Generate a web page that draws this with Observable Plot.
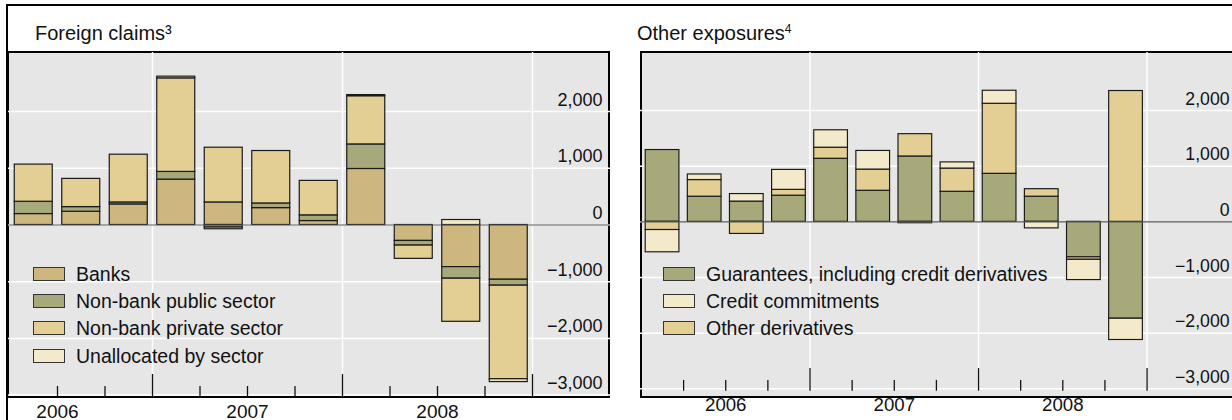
<!DOCTYPE html>
<html><head><meta charset="utf-8">
<script src="https://cdn.jsdelivr.net/npm/d3@7"></script>
<script src="https://cdn.jsdelivr.net/npm/@observablehq/plot@0.6"></script>
<style>
html,body{margin:0;padding:0;background:#fff;}
body{width:1232px;height:420px;overflow:hidden;position:relative;font-family:"Liberation Sans",Arial,sans-serif;color:#111;}
.line{position:absolute;background:#000;}
.frame{position:absolute;box-sizing:border-box;border:2px solid #000;background:#e6e6e6;}
.title{position:absolute;font-size:20px;line-height:20px;white-space:nowrap;}
.title sup{font-size:12px;vertical-align:top;position:relative;top:-4px;}
.leg{position:absolute;font-size:19.5px;line-height:20px;white-space:nowrap;display:flex;align-items:center;}
.sw{width:32px;height:14px;border:1.5px solid #333;margin-right:11px;box-sizing:border-box;flex:none;}
.plot{position:absolute;}
</style></head><body>
<script>
// ---- data ----
const claimQuarters = ["2006 Q2","2006 Q3","2006 Q4","2007 Q1","2007 Q2","2007 Q3","2007 Q4","2008 Q1","2008 Q2","2008 Q3","2008 Q4"];
const claimSeries = ["Banks","Non-bank public sector","Non-bank private sector","Unallocated by sector"];
const banks          = [193, 234, 363, 801, 398, 298,  70, 988, -281, -743, -965];
const nonBankPublic  = [217,  82,  35, 135, -45,  82, 100, 433,  -82, -204, -105];
const nonBankPrivate = [655, 497, 842,1650, 965, 925, 608, 850, -234, -760,-1650];
const unallocated    = [  0,   0,   0,  30, -30,   0,   0,  20,    0,   88,  -50];

const exposureQuarters = ["2006 Q1","2006 Q2","2006 Q3","2006 Q4","2007 Q1","2007 Q2","2007 Q3","2007 Q4","2008 Q1","2008 Q2","2008 Q3","2008 Q4"];
const exposureSeries = ["Guarantees, including credit derivatives","Other derivatives","Credit commitments"];
const exposureLegendOrder = ["Guarantees, including credit derivatives","Credit commitments","Other derivatives"];
const guarantees        = [1290, 452, 364, 470, 1133, 558, 1174, 540,  863, 452, -637, -1740];
const otherDerivatives  = [-147, 299,-217, 105,  199, 381,  401, 417, 1258, 135,  -45,  2350];
const creditCommitments = [-400, 100, 135, 358,  313, 335,  -25, 111,  234,-117, -364,  -382];

const yTicks = [-3000, -2000, -1000, 0, 1000, 2000];
const yearLabels = ["2006", "2007", "2008"];

const colors = {
  "Banks": "#cdb77e",
  "Non-bank public sector": "#a8a97b",
  "Non-bank private sector": "#e3cf93",
  "Unallocated by sector": "#f3eacb",
  "Guarantees, including credit derivatives": "#a8a97b",
  "Other derivatives": "#e3cf93",
  "Credit commitments": "#f3eacb"
};

// ---- helpers ----
const toNum = q => { const [y, qq] = q.split(" Q"); return +y + (+qq - 1) / 4; };
const fmt = d3.format(",");

function addDiv(cls, style, html) {
  const d = document.createElement("div");
  d.className = cls;
  Object.assign(d.style, style);
  if (html != null) d.innerHTML = html;
  document.body.appendChild(d);
  return d;
}

function panel({left, quarters, names, values, marginLeft, marginRight, labelGap, title, titleLeft, legendLeft, legendNames}) {
  const W = 603, H = 368, MB = 23, innerH = H - MB;
  addDiv("frame", {left: left + "px", top: "51px", width: W + "px", height: (innerH + 2) + "px"});
  const rows = [];
  quarters.forEach((q, i) => names.forEach((n, j) => rows.push({t: toNum(q), series: n, value: values[j][i]})));
  const t0 = toNum(quarters[0]), t1 = toNum(quarters[quarters.length - 1]) + 0.25;
  const bounds = quarters.slice(1).map(toNum).concat([t1]);
  const major = bounds.filter(Number.isInteger);
  const minor = bounds.filter(b => !Number.isInteger(b));
  const step = (W - marginLeft - marginRight) / quarters.length;
  const inset = step * 0.1;
  const svg = Plot.plot({
    width: W, height: H, marginTop: 0, marginBottom: MB, marginLeft, marginRight,
    x: {domain: [t0, t1], axis: null},
    y: {domain: [-3042, 3042], axis: null},
    color: {domain: names, range: names.map(n => colors[n])},
    style: {background: "transparent", fontFamily: "'Liberation Sans', Arial, sans-serif", overflow: "visible"},
    marks: [
      Plot.ruleY(yTicks, {y: d => d, stroke: "#fff", strokeWidth: 1.5, insetLeft: -marginLeft, insetRight: -marginRight}),
      Plot.ruleX(major, {x: d => d, stroke: "#fff", strokeWidth: 1.5}),
      Plot.rectY(rows, {x1: "t", x2: d => d.t + 0.25, y: "value", fill: "series", stroke: "#1a1a1a", strokeWidth: 1.2, insetLeft: inset, insetRight: inset}),
      Plot.ruleY([0], {stroke: "#555", strokeWidth: 1.2, insetLeft: -marginLeft, insetRight: -marginRight}),
      Plot.ruleX(minor, {x: d => d, stroke: "#111", strokeWidth: 1.3, insetTop: innerH - 11}),
      Plot.ruleX(major, {x: d => d, stroke: "#111", strokeWidth: 1.3, insetTop: innerH - 23}),
      Plot.text(yTicks, {y: d => d, text: d => fmt(d), frameAnchor: "right", dx: marginRight - labelGap, textAnchor: "end", lineAnchor: "bottom", dy: -6, fontSize: 18, fill: "#111"}),
      Plot.text(yearLabels, {x: d => +d + 0.5, text: d => d, frameAnchor: "bottom", lineAnchor: "top", dy: 7, fontSize: 19, fill: "#111"})
    ]
  });
  const wrap = addDiv("plot", {left: left + "px", top: "52px"});
  wrap.appendChild(svg);
  addDiv("title", {left: titleLeft + "px", top: "23px"}, title);
  legendNames.forEach((n, i) => {
    const row = addDiv("leg", {left: legendLeft + "px", top: (264 + i * 27.2) + "px"});
    row.innerHTML = `<div class="sw" style="background:${colors[n]}"></div><span>${n}</span>`;
  });
}

// outer borders
addDiv("line", {left: "6px", top: "4px", width: "1226px", height: "2px"});

panel({
  left: 7, quarters: claimQuarters, names: claimSeries,
  values: [banks, nonBankPublic, nonBankPrivate, unallocated],
  marginLeft: 2.5, marginRight: 78, labelGap: 8,
  title: "Foreign claims³", titleLeft: 35, legendLeft: 33, legendNames: claimSeries
});
panel({
  left: 640, quarters: exposureQuarters, names: exposureSeries,
  values: [guarantees, otherDerivatives, creditCommitments],
  marginLeft: 1, marginRight: 87, labelGap: 3,
  title: "Other exposures<sup>4</sup>", titleLeft: 637, legendLeft: 663, legendNames: exposureLegendOrder
});
addDiv("line", {left: "6px", top: "4px", width: "2px", height: "416px"});
</script>
</body></html>
